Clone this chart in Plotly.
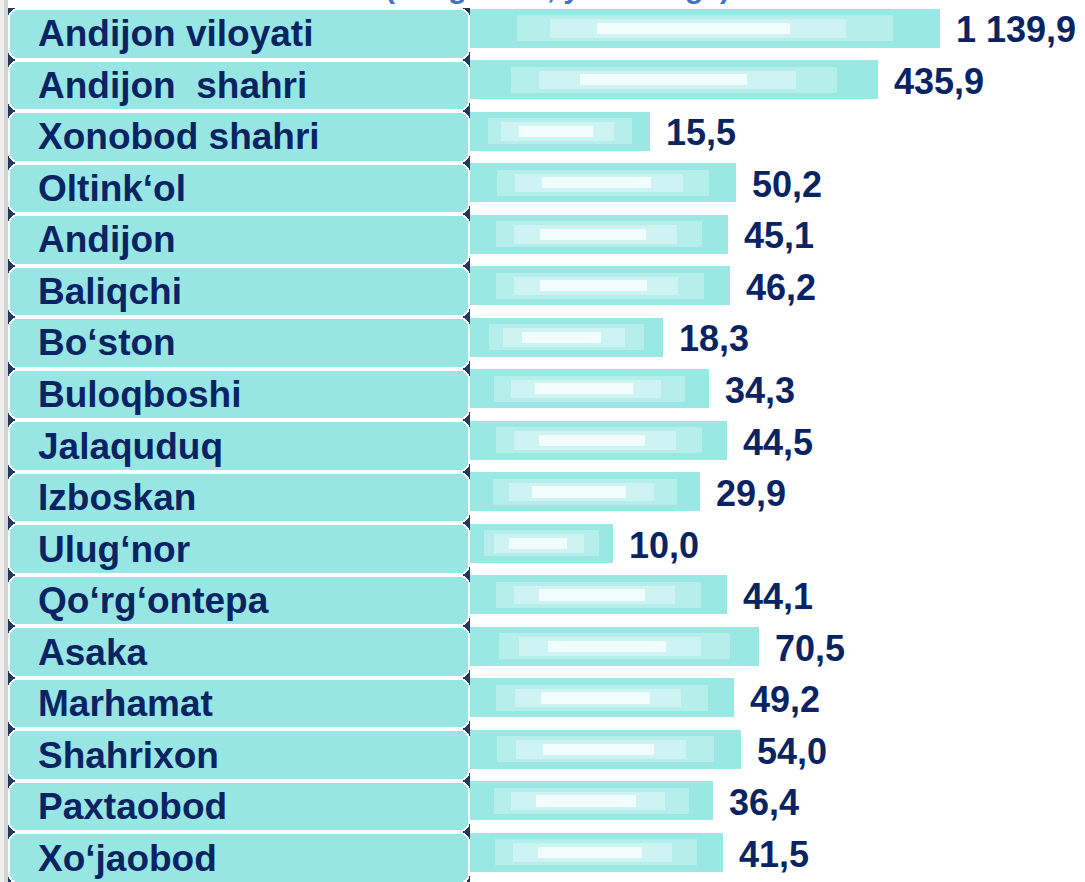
import numpy as np
import plotly.graph_objects as go

categories = ["Andijon viloyati", "Andijon  shahri", "Xonobod shahri", "Oltink‘ol", "Andijon",
              "Baliqchi", "Bo‘ston", "Buloqboshi", "Jalaquduq", "Izboskan", "Ulug‘nor",
              "Qo‘rg‘ontepa", "Asaka", "Marhamat", "Shahrixon", "Paxtaobod", "Xo‘jaobod"]
values = [1139.9, 435.9, 15.5, 50.2, 45.1, 46.2, 18.3, 34.3, 44.5, 29.9, 10.0,
          44.1, 70.5, 49.2, 54.0, 36.4, 41.5]
title_text = "(ming nafar, yil boshiga)"

def fmt(v):
    return f"{v:,.1f}".replace(",", " ").replace(".", ",")

value_labels = [fmt(v) for v in values]

NAVY = "#1F3864"
TEAL = "#9AE8E4"
BOX = "#98E6E3"
TXT = "#0A2463"
FONT = "Liberation Sans"

W, H = 1085, 882
split = 470 / W
n = len(categories)
ones = [1] * n
XR = [-0.122, 4.036]   # log10 range of the value axis
ORIGIN = -3            # bar origin offset used by the original (log scale of value - 3)

vals = np.array(values)
ends = vals + ORIGIN   # bar end positions on the log axis

fig = go.Figure()

# label panels (left)
fig.add_trace(go.Bar(y=categories, x=ones, base=0, orientation="h", width=1.0,
                     marker=dict(color=NAVY, line_width=0), xaxis="x2", yaxis="y",
                     hoverinfo="skip", showlegend=False))
for xv, bv in ((-0.55, 0.55), (0.55, 0.45)):
    fig.add_trace(go.Bar(y=categories, x=[xv] * n, base=bv, orientation="h", width=0.995,
                         marker=dict(color="#FFFFFF", line_width=0, cornerradius=10),
                         xaxis="x2", yaxis="y", hoverinfo="skip", showlegend=False))
for xv, bv in ((-0.546, 0.55), (0.546, 0.45)):
    fig.add_trace(go.Bar(y=categories, x=[xv] * n, base=bv, orientation="h", width=0.925,
                         marker=dict(color=BOX, line_width=0, cornerradius=8),
                         xaxis="x2", yaxis="y", hoverinfo="skip", showlegend=False))

# data bars
fig.add_trace(go.Bar(y=categories, x=values, base=ORIGIN, orientation="h", width=0.76, offset=-0.49,
                     marker=dict(color=TEAL, line_width=0), xaxis="x", yaxis="y",
                     customdata=value_labels,
                     hovertemplate="%{y}: %{customdata}<extra></extra>", showlegend=False))

# soft highlight bands inside each data bar (derived from the bar's own length)
span = np.log10(ends) - XR[0]
for f0, f1, wd, col in ((0.10, 0.90, 0.50, "#B6EEEB"), (0.17, 0.80, 0.36, "#CDF4F2"),
                        (0.27, 0.68, 0.22, "#F1FCFC")):
    lo = 10 ** (XR[0] + f0 * span)
    hi = 10 ** (XR[0] + f1 * span)
    fig.add_trace(go.Bar(y=categories, x=hi - lo, base=lo, orientation="h", width=wd,
                         offset=-0.49 + (0.76 - wd) / 2,
                         marker=dict(color=col, line_width=0), xaxis="x", yaxis="y",
                         hoverinfo="skip", showlegend=False))

annotations = []
for c in categories:
    annotations.append(dict(x=0, y=c, xref="x2", yref="y", text=c, showarrow=False,
                            xanchor="left", yanchor="middle", xshift=28, yshift=0,
                            font=dict(family=FONT, size=37, color=TXT, weight="bold")))
for c, e, t in zip(categories, ends, value_labels):
    annotations.append(dict(x=np.log10(e), y=c, xref="x", yref="y", text=t, showarrow=False,
                            xanchor="left", yanchor="middle", xshift=14, yshift=4,
                            font=dict(family=FONT, size=36, color=TXT, weight="bold")))
annotations.append(dict(x=557 / W, y=1, xref="paper", yref="paper", text=title_text,
                        showarrow=False, xanchor="center", yanchor="bottom", yshift=-6,
                        font=dict(family=FONT, size=30, color="#4472C4", weight="bold")))

shapes = [
    dict(type="rect", xref="paper", yref="paper", x0=0, x1=4 / W, y0=0, y1=1,
         fillcolor="#EFEFEF", line_width=0, layer="below"),
    dict(type="rect", xref="paper", yref="paper", x0=4 / W, x1=8 / W, y0=0, y1=1,
         fillcolor="#D4D4D4", line_width=0, layer="below"),
]

fig.update_layout(
    width=W, height=H,
    margin=dict(l=0, r=0, t=0, b=0),
    paper_bgcolor="white", plot_bgcolor="rgba(0,0,0,0)",
    barmode="overlay", bargap=0,
    xaxis=dict(type="log", domain=[split, 1], range=XR, visible=False, fixedrange=True),
    xaxis2=dict(domain=[8 / W, split], range=[0, 1], visible=False, fixedrange=True),
    yaxis=dict(type="category", categoryorder="array", categoryarray=categories,
               range=[16.466, -0.660], visible=False, fixedrange=True),
    annotations=annotations,
    shapes=shapes,
)

fig.write_html("out.html", config={"displayModeBar": False},
               post_script="document.body.style.margin='0';")
